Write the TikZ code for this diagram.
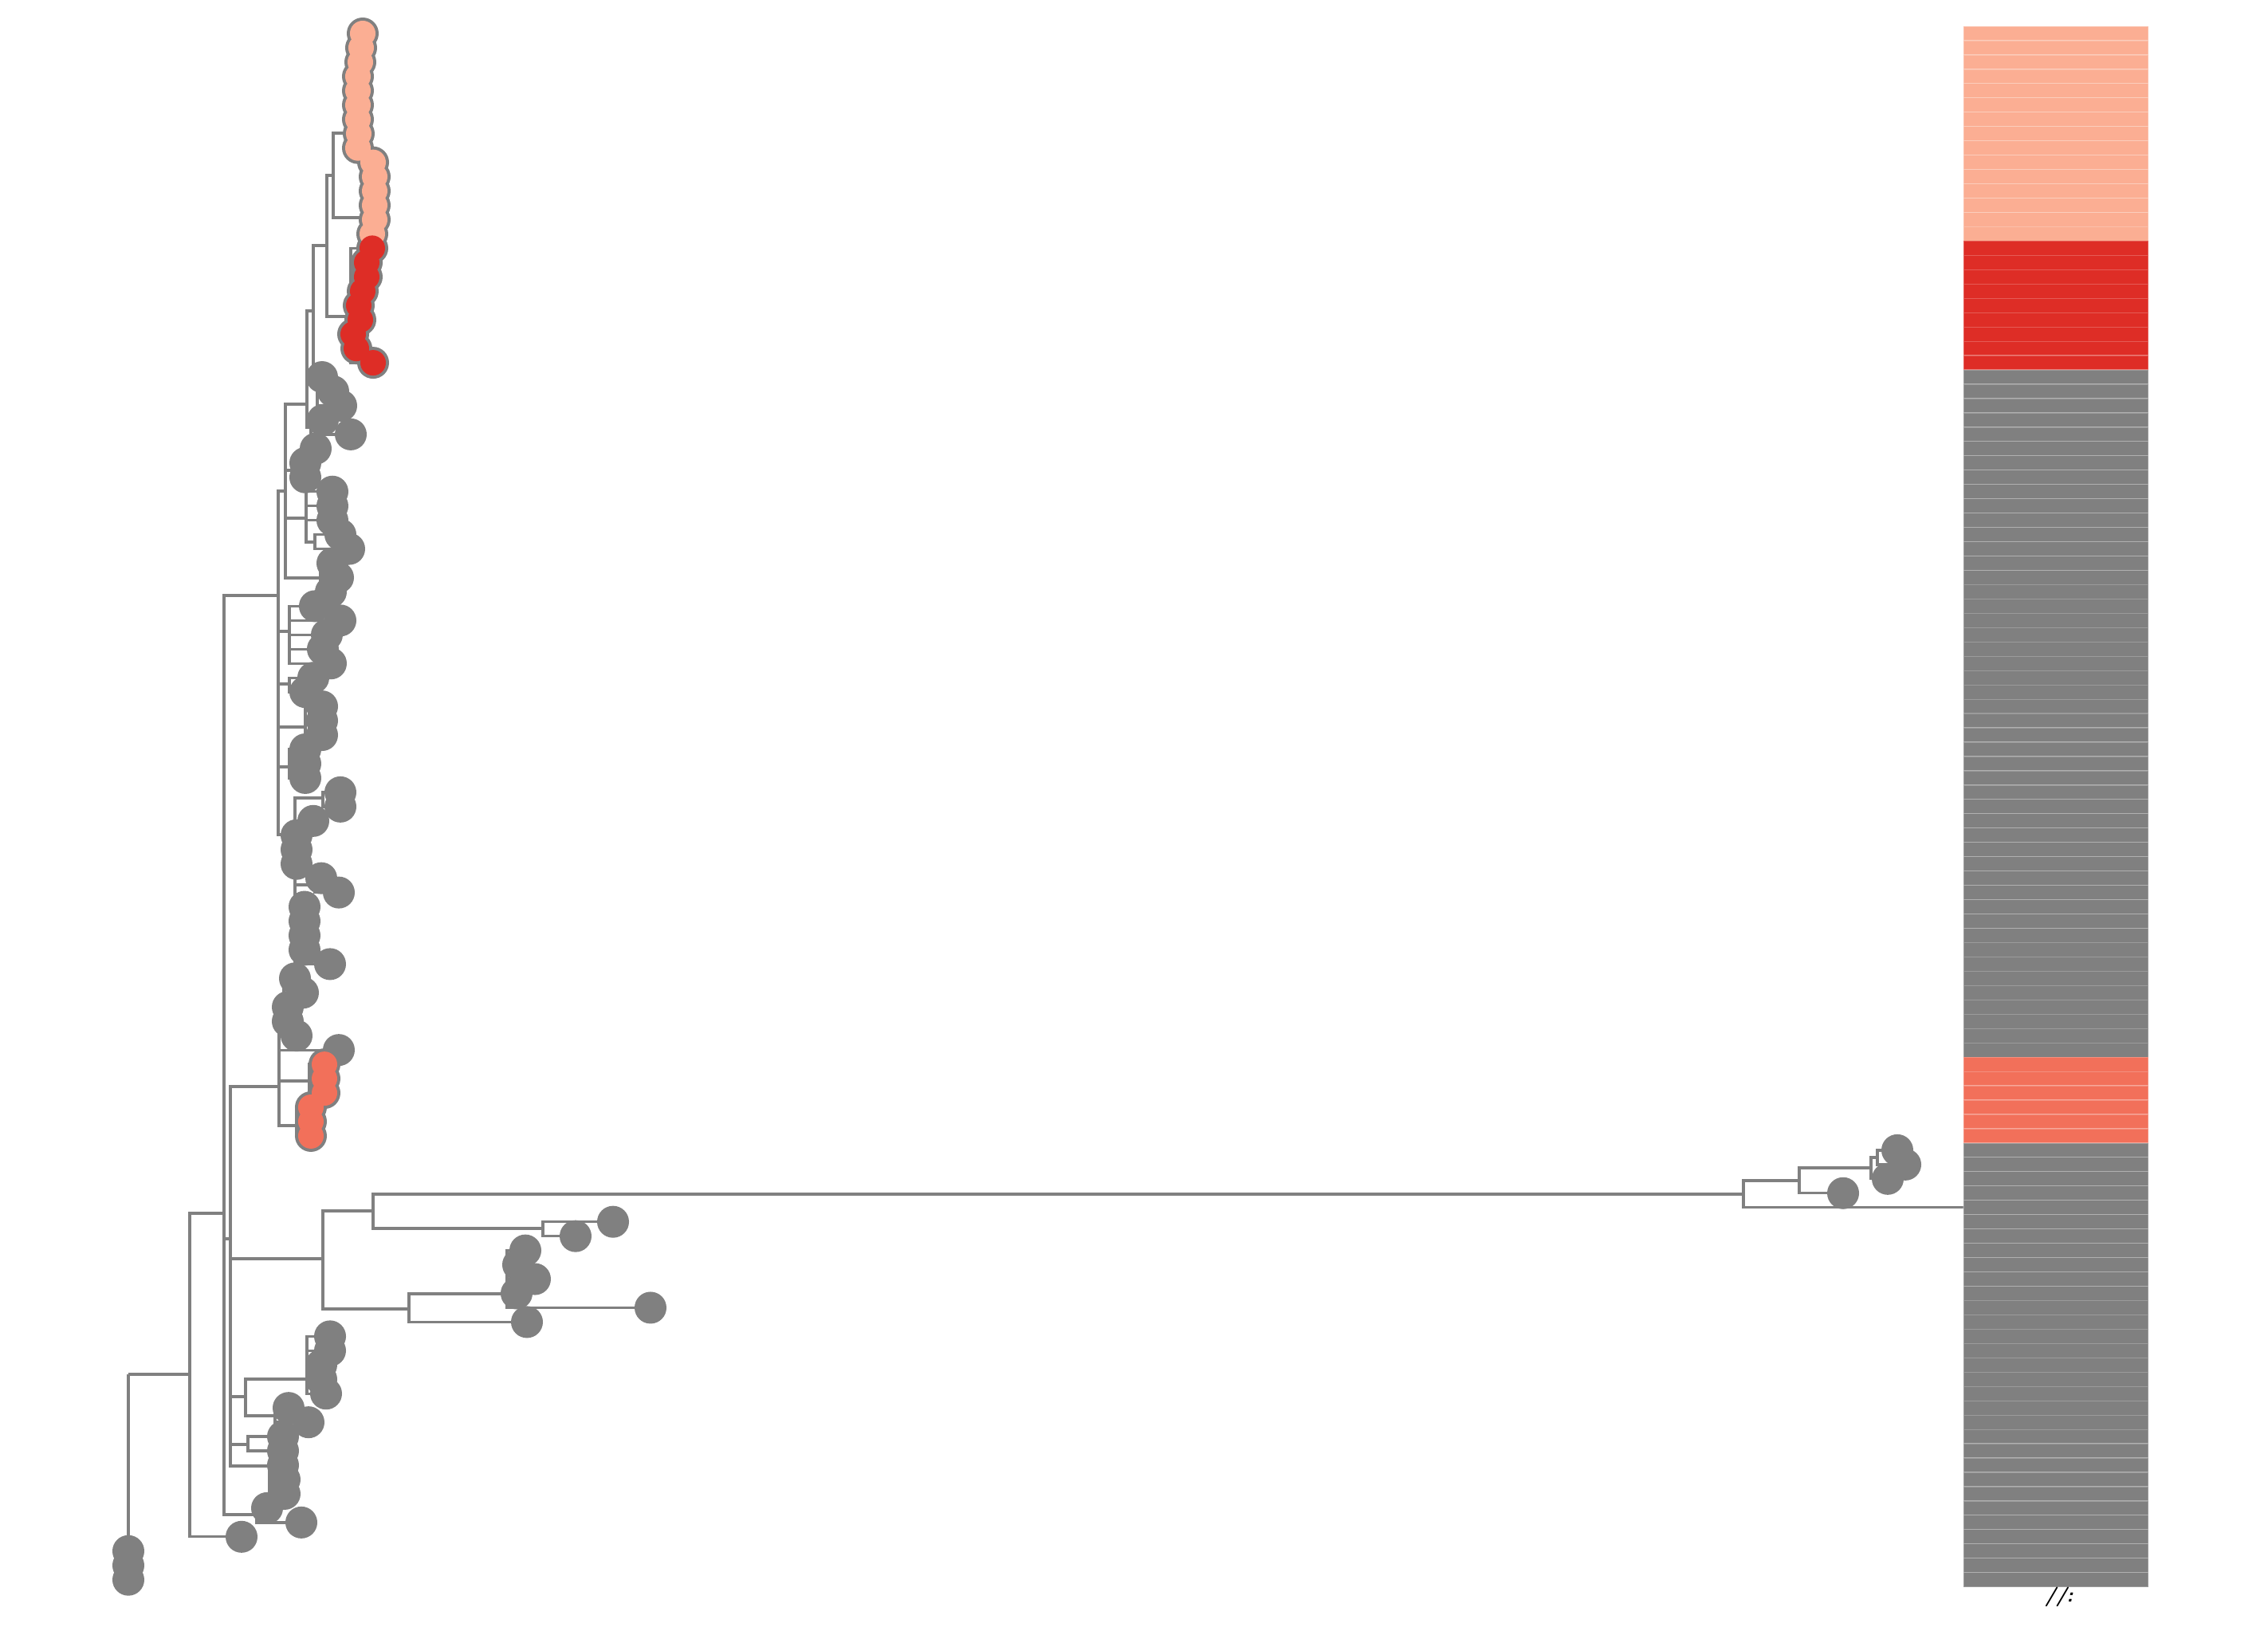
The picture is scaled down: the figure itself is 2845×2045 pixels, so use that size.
\documentclass[tikz,border=0pt]{standalone}
\usepackage{tikz}

\definecolor{gry}{RGB}{128,128,128}
\definecolor{pch}{RGB}{251,174,147}
\definecolor{rd}{RGB}{222,45,38}
\definecolor{org}{RGB}{242,112,90}

% parent -> named children / parent -> range of tips
\newcommand{\kids}[2]{\foreach \k in {#2}{\draw[branch] (#1) |- (\k);}}
\newcommand{\leaves}[3]{\foreach \k in {#2,...,#3}{\draw[branch] (#1) |- (t\k);}}

% tip x position / tip colour, top to bottom
\def\tiplist{455/pch,453/pch,452/pch,449/pch,449/pch,449/pch,449/pch,450/pch,449/pch,
468/pch,470/pch,470/pch,470/pch,470/pch,467/pch,
467/rd,460/rd,460/rd,455/rd,450/rd,452/rd,443/rd,447/rd,468/rd,
404/gry,418/gry,428/gry,405/gry,440/gry,396/gry,383/gry,383/gry,417/gry,417/gry,
417/gry,427/gry,438/gry,417/gry,424/gry,415/gry,395/gry,427/gry,410/gry,405/gry,
415/gry,393/gry,383/gry,404/gry,404/gry,404/gry,383/gry,383/gry,383/gry,427/gry,
427/gry,393/gry,372/gry,372/gry,372/gry,403/gry,425/gry,382/gry,382/gry,382/gry,
382/gry,414/gry,370/gry,380/gry,361/gry,361/gry,372/gry,425/gry,
407/org,407/org,407/org,390/org,390/org,390/org,
2380/gry,2390/gry,2368/gry,2312/gry,2490/gry,769/gry,722/gry,
659/gry,650/gry,671/gry,648/gry,816/gry,661/gry,
414/gry,414/gry,403/gry,403/gry,409/gry,362/gry,387/gry,
355/gry,355/gry,355/gry,357/gry,357/gry,335/gry,378/gry,303/gry,161/gry,161/gry,161/gry}

\begin{document}
\begin{tikzpicture}[
    x=0.01cm, y=-0.01cm,
    branch/.style={draw=gry, line width=0.95pt},
    halo/.style={circle, fill=gry, minimum size=0.40cm, inner sep=0pt},
    tip/.style={circle, minimum size=0.32cm, inner sep=0pt},
    cell/.style={rectangle, minimum width=2.32cm, minimum height=0.1796cm, inner sep=0pt,
                 draw=white, draw opacity=0.22, line width=0.35pt}
]
    \useasboundingbox (0,0) rectangle (2845,2045);

    % tips
    \foreach \x/\c [count=\i from 0] in \tiplist {
        \coordinate (t\i) at (\x, {42+17.96*\i});
    }

    % internal nodes
    \coordinate (pU) at (440,167);
    \coordinate (pL) at (455,273);
    \coordinate (nP1) at (418,220);
    \coordinate (rdc) at (440,397);
    \coordinate (nP2) at (410,308);
    \coordinate (g1) at (398,485);
    \coordinate (nP3) at (393,390);
    \coordinate (g2) at (390,536);
    \coordinate (nD) at (385,507);
    \coordinate (g3) at (375,590);
    \coordinate (g5) at (384,650);
    \coordinate (g5b) at (395,680);
    \coordinate (g4) at (402,725);
    \coordinate (nC) at (358,616);
    \coordinate (g6) at (363,792);
    \coordinate (g7) at (363,858);
    \coordinate (g8) at (383,912);
    \coordinate (g9) at (363,962);
    \coordinate (g10) at (405,1001);
    \coordinate (g13) at (395,1110);
    \coordinate (g11) at (370,1047);
    \coordinate (nB) at (349,747);
    \coordinate (g14) at (356,1263);
    \coordinate (oU) at (388,1356);
    \coordinate (oL) at (372,1412);
    \coordinate (nE) at (350,1363);
    \coordinate (nN) at (2355,1452);
    \coordinate (nM) at (2347,1465);
    \coordinate (nL) at (2257,1481);
    \coordinate (nJ) at (2187,1498);
    \coordinate (nK) at (681,1541);
    \coordinate (nH) at (468,1519);
    \coordinate (nO) at (636,1623);
    \coordinate (nI) at (513,1642);
    \coordinate (nG) at (405,1579);
    \coordinate (g15a) at (385,1730);
    \coordinate (g15b) at (345,1776);
    \coordinate (g15) at (308,1752);
    \coordinate (g16) at (311,1812);
    \coordinate (g17) at (338,1839);
    \coordinate (nF) at (289,1554);
    \coordinate (n103) at (322,1900);
    \coordinate (nA) at (281,1522);
    \coordinate (nR) at (238,1724);
    \coordinate (root) at (161,1724);

    % branches
    \leaves{pU}{0}{8}
    \leaves{pL}{9}{14}
    \kids{nP1}{pU,pL}
    \leaves{rdc}{15}{23}
    \kids{nP2}{nP1,rdc}
    \leaves{g1}{24}{26}
    \kids{nP3}{nP2,g1}
    \leaves{g2}{27}{29}
    \kids{nD}{nP3,g2}
    \leaves{g3}{30}{31}
    \leaves{g5}{32}{34}
    \kids{g5}{g5b}
    \leaves{g5b}{35}{36}
    \leaves{g4}{37}{39}
    \kids{nC}{nD,g3,g5,g4}
    \leaves{g6}{40}{44}
    \leaves{g7}{45}{46}
    \leaves{g8}{47}{49}
    \leaves{g9}{50}{52}
    \leaves{g10}{53}{54}
    \leaves{g13}{59}{60}
    \kids{g11}{g10,g13,t55,t56,t57,t58,t61,t62,t63,t64,t65}
    \kids{nB}{nC,g6,g7,g8,g9,g11}
    \leaves{g14}{66}{70}
    \leaves{oU}{72}{74}
    \leaves{oL}{75}{77}
    \kids{nE}{g14,t71,oU,oL}
    \leaves{nN}{78}{79}
    \kids{nM}{nN,t80}
    \kids{nL}{nM,t81}
    \kids{nJ}{nL,t82}
    \leaves{nK}{83}{84}
    \kids{nH}{nJ,nK}
    \leaves{nO}{85}{89}
    \kids{nI}{nO,t90}
    \kids{nG}{nH,nI}
    \leaves{g15a}{91}{95}
    \leaves{g15b}{96}{97}
    \kids{g15}{g15a,g15b}
    \leaves{g16}{98}{99}
    \leaves{g17}{100}{102}
    \kids{nF}{nE,nG,g15,g16,g17}
    \leaves{n103}{103}{104}
    \kids{nA}{nB,nF,n103}
    \kids{nR}{nA,t105}
    \kids{root}{nR,t106,t107,t108}

    % tip points: grey rim under all, colour on top
    \foreach \x/\c [count=\i from 0] in \tiplist {
        \node[halo] (r\i) at (t\i) {};
    }
    \foreach \x/\c [count=\i from 0] in \tiplist {
        \node[tip, fill=\c] (c\i) at (t\i) {};
    }

    % heatmap column
    \foreach \i in {0,...,108} {
        \ifnum\i<15 \def\hc{pch}\else
        \ifnum\i<24 \def\hc{rd}\else
        \ifnum\i<72 \def\hc{gry}\else
        \ifnum\i<78 \def\hc{org}\else \def\hc{gry}\fi\fi\fi\fi
        \node[cell, fill=\hc] (h\i) at (2579, {42+17.96*\i}) {};
    }

    \node[inner sep=0pt, font=\sffamily\bfseries\itshape\fontsize{7}{7}\selectfont] (lab) at (2583,2003) {//:};
\end{tikzpicture}
\end{document}
